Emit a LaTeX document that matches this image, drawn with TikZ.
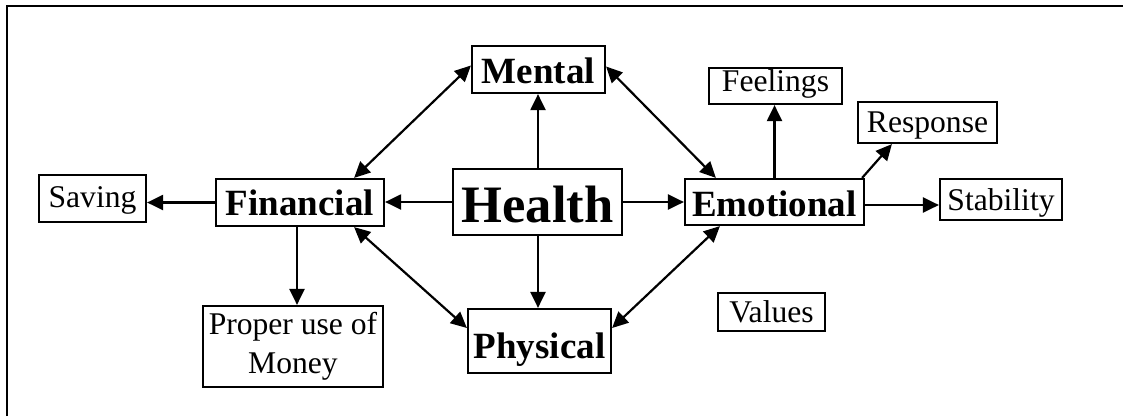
\documentclass[tikz,border=0pt]{standalone}
\usepackage{fontspec}
\setmainfont{Liberation Serif}
\usetikzlibrary{arrows.meta}
\begin{document}
\begin{tikzpicture}[x=1pt,y=-1pt,
  box/.style={draw,line width=2.2pt,inner sep=0pt,text depth=0pt},
  bigb/.style={box,font=\fontsize{37}{40}\selectfont\bfseries},
  smallb/.style={box,font=\fontsize{31.6}{39}\selectfont},
  tip/.style={},
  arr/.style={line width=2.2pt,-{Triangle[length=16pt,width=15pt]}},
  darr/.style={line width=2.2pt,{Triangle[length=16pt,width=15pt]}-{Triangle[length=16pt,width=15pt]}}]
\useasboundingbox (0,0) rectangle (1123,416);
\draw[line width=2.2pt] (6.7,416) -- (6.7,6) -- (1123,6);
% nodes
\node[bigb,minimum width=133pt,minimum height=47pt,text height=27pt] (mental) at (538.5,69.5) {Mental};
\node[smallb,minimum width=133pt,minimum height=36pt,text height=10pt] (feel) at (775.5,86) {Feelings};
\node[smallb,minimum width=139pt,minimum height=41pt,text height=20pt] (resp) at (927.5,122.5) {Response};
\node[smallb,minimum width=107pt,minimum height=47pt,text height=18pt] (saving) at (92.5,198.5) {Saving};
\node[bigb,minimum width=168pt,minimum height=47pt,text height=25pt] (fin) at (300,202.5) {Financial};
\node[box,font=\fontsize{52.6}{56}\selectfont\bfseries,minimum width=169pt,minimum height=66pt,text height=40pt] (health) at (537.5,202) {Health};
\node[bigb,minimum width=179pt,minimum height=46pt,text height=28pt] (emo) at (774.5,202) {Emotional};
\node[smallb,minimum width=122pt,minimum height=41pt,text height=21pt] (stab) at (1001,199.5) {Stability};
\node[draw,line width=2.2pt,inner sep=0pt,font=\fontsize{31.6}{39}\selectfont,align=center,minimum width=180pt,minimum height=81pt] (proper) at (293,346.5) {Proper use of\\Money};
\node[bigb,minimum width=143pt,minimum height=64pt,text height=34pt] (phys) at (539.5,341) {Physical};
\node[smallb,minimum width=107pt,minimum height=38pt,text height=20pt] (values) at (771.5,312) {Values};
% connectors
\draw[arr] (538,169) coordinate (hn) -- (hn |- mental.south);
\draw[arr] (538,235) coordinate (hs) -- (hs |- phys.north);
\draw[arr] (health.west) -- (health.west -| fin.east);
\draw[arr] (health.east) -- (health.east -| emo.west);
\draw[arr] (fin.west) -- (fin.west -| saving.east);
\draw[arr] ([xshift=-3pt]fin.south) -- ([xshift=-3pt]fin.south |- proper.north);
\draw[arr] (emo.north) -- (emo.north |- feel.south);
\draw[arr] ([xshift=-3pt]emo.north east) -- ([xshift=35pt]resp.south west);
\draw[arr] ([yshift=-3pt]emo.east) -- ([yshift=-3pt]emo.east -| stab.west);
\draw[darr] ([xshift=-31pt]fin.north east) -- ([yshift=4pt]mental.west);
\draw[darr] ([yshift=3pt]mental.east) -- ([xshift=32pt]emo.north west);
\draw[darr] ([xshift=-31pt]fin.south east) -- ([yshift=13pt]phys.west);
\draw[darr] ([xshift=36pt]emo.south west) -- ([yshift=13pt]phys.east);
\end{tikzpicture}
\end{document}
